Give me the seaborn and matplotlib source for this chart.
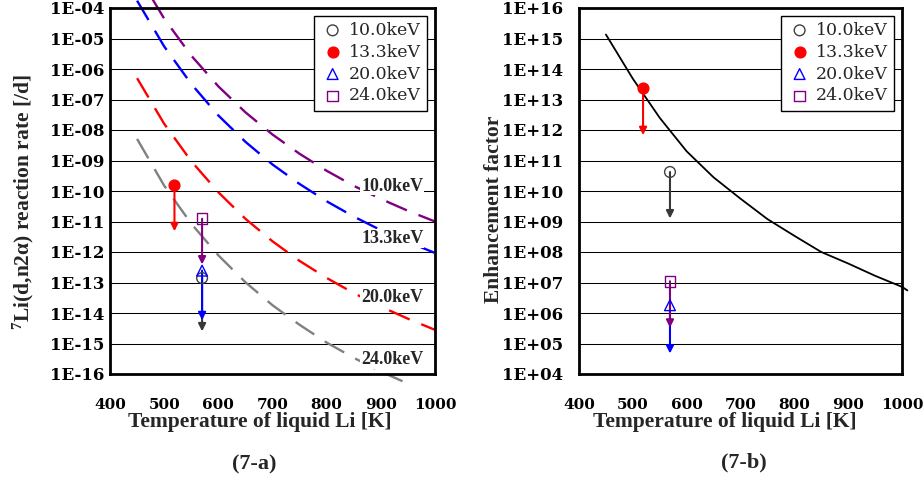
import numpy as np
import pandas as pd
import matplotlib
matplotlib.use('Agg')
import matplotlib.pyplot as plt
import seaborn as sns
from matplotlib.ticker import NullLocator

sns.set_style('white')
plt.rcParams['font.family'] = ['Liberation Serif', 'DejaVu Serif']
plt.rcParams['mathtext.fontset'] = 'custom'
plt.rcParams['mathtext.rm'] = 'Liberation Serif:bold'
plt.rcParams['mathtext.default'] = 'rm'

# ---- (7-a) reaction rate curves [/d] vs liquid Li temperature [K]
temps = [450, 500, 550, 600, 650, 700, 750, 800, 850, 900, 950, 1000]
rate_10 = [1.35e-03, 4.5e-05, 2.75e-06, 2.7e-07, 3.8e-08, 7.1e-09, 1.66e-09, 4.6e-10, 1.48e-10, 5.5e-11, 2.24e-11, 1.0e-11]
rate_13 = [1.74e-04, 5.5e-06, 3.24e-07, 3.0e-08, 4.1e-09, 7.4e-10, 1.7e-10, 4.6e-11, 1.45e-11, 5.2e-12, 2.14e-12, 9.3e-13]
rate_20 = [5.0e-07, 1.6e-08, 9.5e-10, 9.1e-11, 1.23e-11, 2.24e-12, 5.1e-13, 1.41e-13, 4.5e-14, 1.62e-14, 6.5e-15, 2.8e-15]
temps_24 = [450, 500, 550, 600, 650, 700, 750, 800, 850, 900, 940]
rate_24 = [5.1e-09, 1.5e-10, 8.5e-12, 7.8e-13, 1.02e-13, 1.8e-14, 4.1e-15, 1.07e-15, 3.4e-16, 1.2e-16, 5.8e-17]

# ---- (7-b) enhancement factor curve
temps_b = [450, 500, 550, 600, 650, 700, 750, 800, 850, 900, 950, 1000, 1010]
enhancement = [1.35e15, 4.8e13, 2.5e12, 2.0e11, 2.8e10, 5.6e9, 1.2e9, 3.4e8, 1.0e8, 4.2e7, 1.66e7, 7.2e6, 5.5e6]

# ---- experimental points (upper value and arrow end)
energies = ['10.0keV', '13.3keV', '20.0keV', '24.0keV']
point_temp_a = [570, 519, 570, 570]
point_rate_a = [1.4e-13, 1.55e-10, 2.45e-13, 1.23e-11]
arrow_end_a = [2.5e-15, 4.8e-12, 5.8e-15, 3.9e-13]
point_temp_b = [569, 519, 569, 569]
point_fact_b = [4.2e10, 2.3e13, 1.8e6, 1.1e7]
arrow_end_b = [1.26e9, 6.8e11, 4.7e4, 3.3e5]

curve_colors = {'10.0keV': '#800080', '13.3keV': '#0000ff', '20.0keV': '#ff0000', '24.0keV': '#808080'}
marker_style = {'10.0keV': ('o', 'none', '#404040'),
                '13.3keV': ('o', '#ff0000', '#ff0000'),
                '20.0keV': ('^', 'none', '#0000ff'),
                '24.0keV': ('s', 'none', '#800080')}
arrow_colors = {'10.0keV': '#383838', '13.3keV': '#ff0000', '20.0keV': '#0000ff', '24.0keV': '#800080'}

curves = pd.concat([
    pd.DataFrame({'temp': temps, 'rate': rate_10, 'curve': '10.0keV'}),
    pd.DataFrame({'temp': temps, 'rate': rate_13, 'curve': '13.3keV'}),
    pd.DataFrame({'temp': temps, 'rate': rate_20, 'curve': '20.0keV'}),
    pd.DataFrame({'temp': temps_24, 'rate': rate_24, 'curve': '24.0keV'}),
], ignore_index=True)
factor = pd.DataFrame({'temp': temps_b, 'factor': enhancement})

fig = plt.figure(figsize=(9.23, 4.79), dpi=100)
ax_a = fig.add_axes([110 / 923, 1 - 374 / 479, 325 / 923, 366 / 479])
ax_b = fig.add_axes([579 / 923, 1 - 374 / 479, 323 / 923, 366 / 479])

sns.lineplot(data=curves, x='temp', y='rate', hue='curve', palette=curve_colors,
             linestyle=(0, (9.5, 5.3)), linewidth=1.7, errorbar=None, legend=False,
             clip_on=False, ax=ax_a, zorder=2)
sns.lineplot(data=factor, x='temp', y='factor', color='black', linewidth=1.3,
             errorbar=None, clip_on=False, ax=ax_b, zorder=2)


def draw_points(ax, xs, ys, ends):
    for e, x, y, y2 in zip(energies, xs, ys, ends):
        ax.annotate('', xy=(x, y2), xytext=(x, y),
                    arrowprops=dict(arrowstyle='-|>', color=arrow_colors[e], lw=1.5,
                                    mutation_scale=11, shrinkA=0, shrinkB=0),
                    zorder=3)
    for e, x, y in zip(energies, xs, ys):
        m, fc, ec = marker_style[e]
        sns.scatterplot(x=[x], y=[y], marker=m, s=60, facecolor=fc, edgecolor=ec,
                        linewidth=1.0, label=e, ax=ax, zorder=4)


draw_points(ax_a, point_temp_a, point_rate_a, arrow_end_a)
draw_points(ax_b, point_temp_b, point_fact_b, arrow_end_b)

# curve labels with white boxes
label_pos = {'10.0keV': 1.45e-10, '13.3keV': 2.75e-12, '20.0keV': 3.2e-14, '24.0keV': 2.95e-16}
for e, y in label_pos.items():
    ax_a.text(921, y, e, ha='center', va='center', fontsize=13, fontweight='bold',
              bbox=dict(facecolor='white', edgecolor='none', pad=0.5), zorder=5)


def style_axis(ax, exps, ypad):
    ax.set_yscale('log')
    ax.set_xlim(400, 1000)
    ax.set_ylim(10.0 ** exps[0], 10.0 ** exps[-1])
    ax.set_xticks(range(400, 1001, 100), labels=[str(t) for t in range(400, 1001, 100)],
                  fontsize=11, fontweight='bold', fontfamily='DejaVu Serif')
    ax.set_yticks([10.0 ** k for k in exps], labels=[f'1E{k:+03d}' for k in exps],
                  fontsize=12, fontweight='bold', fontfamily='DejaVu Serif')
    ax.yaxis.set_minor_locator(NullLocator())
    ax.tick_params(axis='x', direction='in', length=5, width=1, pad=17, colors='black')
    ax.tick_params(axis='y', length=0, pad=ypad, colors='black')
    ax.grid(axis='y', color='black', linewidth=0.75)
    ax.grid(axis='x', visible=False)
    for s in ax.spines.values():
        s.set_linewidth(2.0)
        s.set_color('black')
    ax.set_xlabel('Temperature of liquid Li [K]', fontsize=15.5, fontweight='bold', va='center')
    leg = ax.legend(loc='upper right', fancybox=False, edgecolor='black', framealpha=1,
                    borderaxespad=0.45, handletextpad=0.25, labelspacing=0.28, borderpad=0.35,
                    handlelength=1.4, scatterpoints=1,
                    prop=dict(family='DejaVu Serif', size=12.5))
    leg.get_frame().set_linewidth(1.0)


style_axis(ax_a, list(range(-16, -3)), 4)
style_axis(ax_b, list(range(4, 17)), 11.5)

ax_a.set_ylabel('$^{7}$Li(d,n2α) reaction rate [/d]', fontsize=15.5, fontweight='bold', va='center')
ax_b.set_ylabel('Enhancement factor', fontsize=15.5, fontweight='bold', va='center')
ax_a.yaxis.set_label_coords(-0.268, 0.47)
ax_b.yaxis.set_label_coords(-0.263, 0.449)
ax_a.xaxis.set_label_coords(0.46, -0.131)
ax_b.xaxis.set_label_coords(0.452, -0.131)

fig.text(254 / 923, 1 - 464 / 479, '(7-a)', ha='center', va='center', fontsize=16, fontweight='bold')
fig.text(744 / 923, 1 - 462 / 479, '(7-b)', ha='center', va='center', fontsize=16, fontweight='bold')

fig.savefig('out.png', dpi=100)
